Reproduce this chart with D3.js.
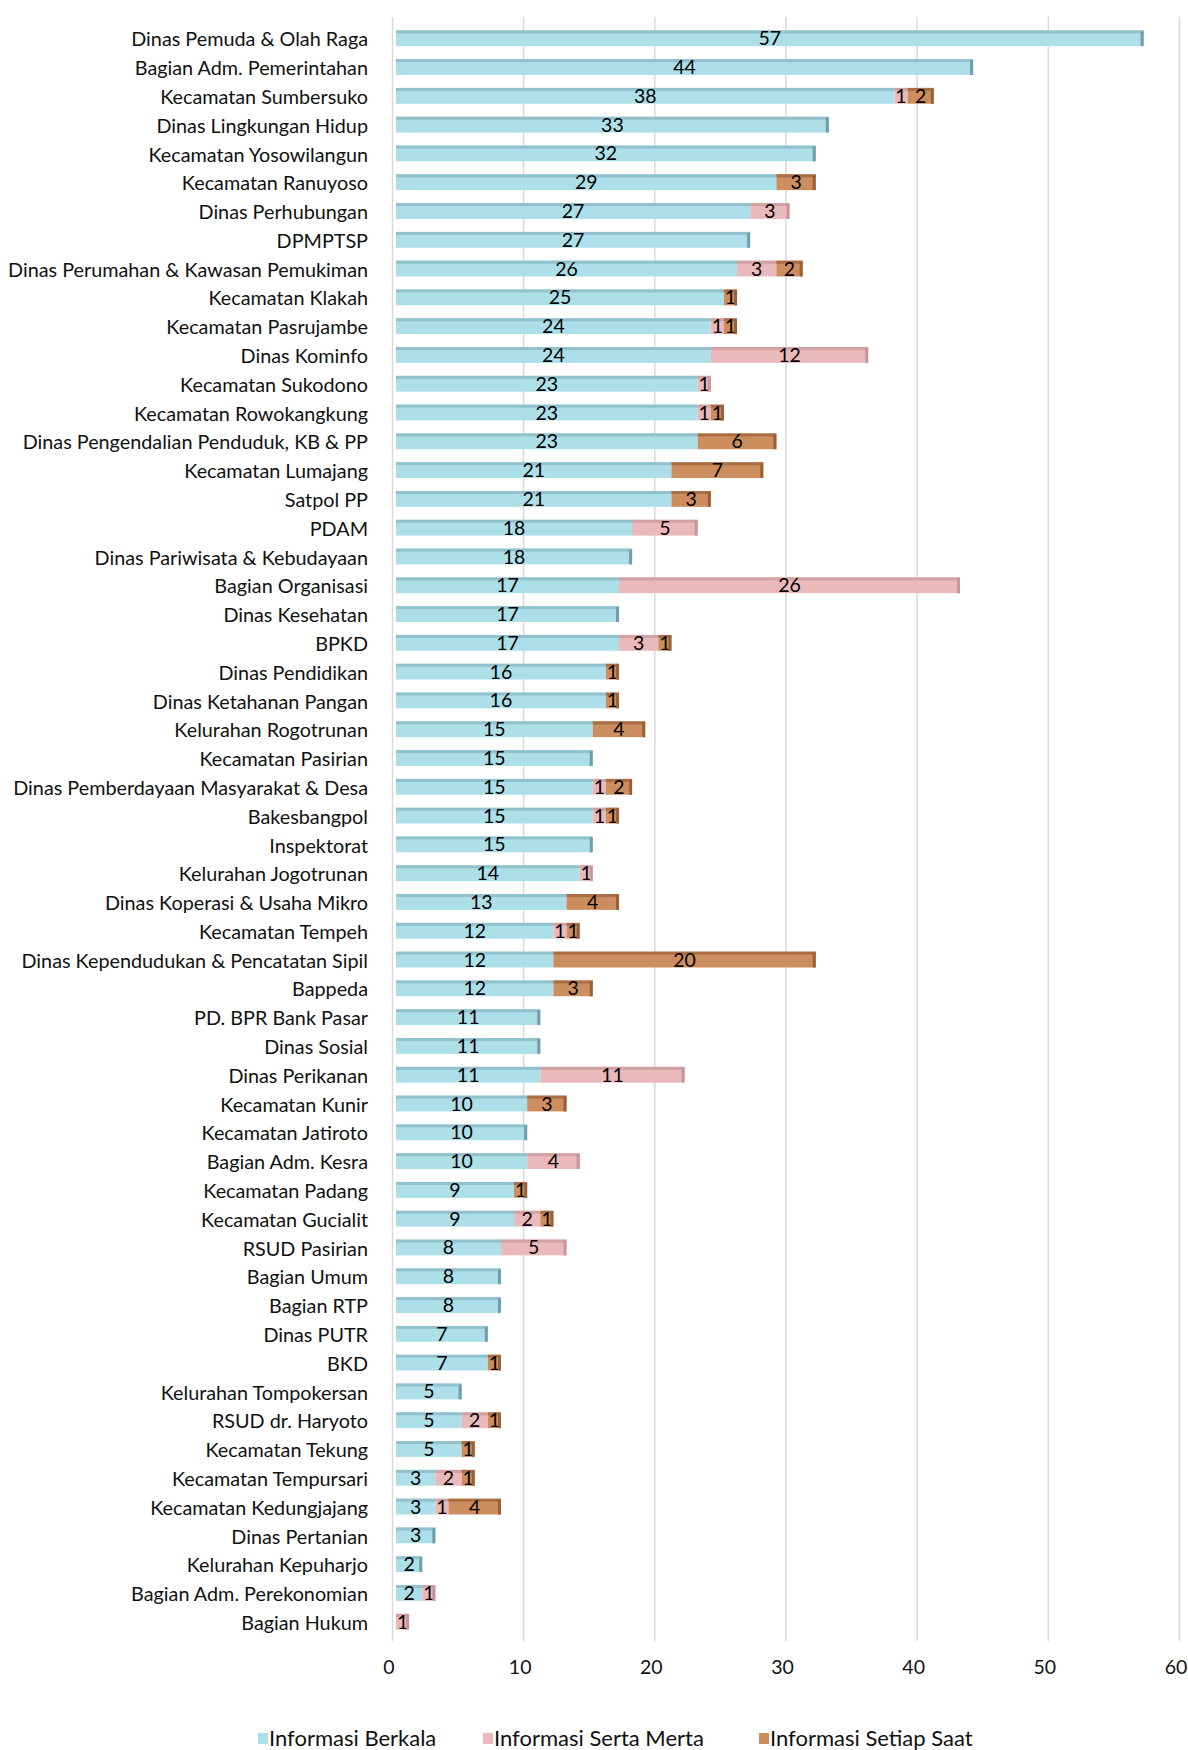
<!DOCTYPE html>
<html>
<head>
<meta charset="utf-8">
<script src="https://cdn.jsdelivr.net/npm/d3@7"></script>
<style>
  html, body { margin: 0; padding: 0; background: #fff; }
  svg { display: block; font-family: Lato, "Open Sans", sans-serif; }
</style>
</head>
<body>
<svg id="chart" width="1188" height="1750"></svg>
<script>
'use strict';

var categories = [
  'Dinas Pemuda & Olah Raga', 'Bagian Adm. Pemerintahan', 'Kecamatan Sumbersuko',
  'Dinas Lingkungan Hidup', 'Kecamatan Yosowilangun', 'Kecamatan Ranuyoso',
  'Dinas Perhubungan', 'DPMPTSP', 'Dinas Perumahan & Kawasan Pemukiman',
  'Kecamatan Klakah', 'Kecamatan Pasrujambe', 'Dinas Kominfo',
  'Kecamatan Sukodono', 'Kecamatan Rowokangkung', 'Dinas Pengendalian Penduduk, KB & PP',
  'Kecamatan Lumajang', 'Satpol PP', 'PDAM', 'Dinas Pariwisata & Kebudayaan',
  'Bagian Organisasi', 'Dinas Kesehatan', 'BPKD', 'Dinas Pendidikan',
  'Dinas Ketahanan Pangan', 'Kelurahan Rogotrunan', 'Kecamatan Pasirian',
  'Dinas Pemberdayaan Masyarakat & Desa', 'Bakesbangpol', 'Inspektorat',
  'Kelurahan Jogotrunan', 'Dinas Koperasi & Usaha Mikro', 'Kecamatan Tempeh',
  'Dinas Kependudukan & Pencatatan Sipil', 'Bappeda', 'PD. BPR Bank Pasar',
  'Dinas Sosial', 'Dinas Perikanan', 'Kecamatan Kunir', 'Kecamatan Jatiroto',
  'Bagian Adm. Kesra', 'Kecamatan Padang', 'Kecamatan Gucialit', 'RSUD Pasirian',
  'Bagian Umum', 'Bagian RTP', 'Dinas PUTR', 'BKD', 'Kelurahan Tompokersan',
  'RSUD dr. Haryoto', 'Kecamatan Tekung', 'Kecamatan Tempursari',
  'Kecamatan Kedungjajang', 'Dinas Pertanian', 'Kelurahan Kepuharjo',
  'Bagian Adm. Perekonomian', 'Bagian Hukum'
];

var berkala = [
  57, 44, 38, 33, 32, 29, 27, 27, 26, 25, 24, 24, 23, 23, 23, 21, 21, 18, 18, 17,
  17, 17, 16, 16, 15, 15, 15, 15, 15, 14, 13, 12, 12, 12, 11, 11, 11, 10, 10, 10,
  9, 9, 8, 8, 8, 7, 7, 5, 5, 5, 3, 3, 3, 2, 2, 0
];

var sertaMerta = [
  0, 0, 1, 0, 0, 0, 3, 0, 3, 0, 1, 12, 1, 1, 0, 0, 0, 5, 0, 26,
  0, 3, 0, 0, 0, 0, 1, 1, 0, 1, 0, 1, 0, 0, 0, 0, 11, 0, 0, 4,
  0, 2, 5, 0, 0, 0, 0, 0, 2, 0, 2, 1, 0, 0, 1, 1
];

var setiapSaat = [
  0, 0, 2, 0, 0, 3, 0, 0, 2, 1, 1, 0, 0, 1, 6, 7, 3, 0, 0, 0,
  0, 1, 1, 1, 4, 0, 2, 1, 0, 0, 4, 1, 20, 3, 0, 0, 0, 3, 0, 0,
  1, 1, 0, 0, 0, 0, 1, 0, 1, 1, 1, 4, 0, 0, 0, 0
];

var seriesNames = ['Informasi Berkala', 'Informasi Serta Merta', 'Informasi Setiap Saat'];
var xTicks = [0, 10, 20, 30, 40, 50, 60];

var colors = {
  fill: ['#addfe9', '#e9b9bc', '#cc8e5e'],
  edge: ['#83b3bf', '#c99598', '#9a6139']
};

var svg = d3.select('#chart'),
    depth = 4;   // shift of the bar faces against the gridlines (3d look)

var rows = categories.map(function(c, i) {
  return { cat: c, b: berkala[i], s: sertaMerta[i], t: setiapSaat[i] };
});

var stack = d3.stack().keys(['b', 's', 't'])(rows);

var x = d3.scaleLinear().domain([0, 60]).range([396, 396 + 787]);
var y = d3.scaleBand().domain(categories).range([24, 1636]).paddingInner(0.45).paddingOuter(0.22);

// gridlines
svg.append('g').attr('class', 'grid')
  .selectAll('line').data(xTicks).enter().append('line')
  .attr('x1', function(d) { return x(d) - depth + 0.5; })
  .attr('x2', function(d) { return x(d) - depth + 0.5; })
  .attr('y1', 17).attr('y2', 1641)
  .attr('stroke', '#d9d9d9').attr('stroke-width', 1.5);

// bars
var layers = svg.append('g').attr('class', 'bars')
  .selectAll('g').data(stack).enter().append('g');

layers.each(function(layer, k) {
  var g = d3.select(this);
  var segs = layer.filter(function(d) { return d[1] - d[0] > 0; });
  var seg = g.selectAll('g').data(segs).enter().append('g');
  seg.append('rect')
    .attr('x', function(d) { return x(d[0]); })
    .attr('y', function(d) { return y(d.data.cat); })
    .attr('width', function(d) { return x(d[1]) - x(d[0]); })
    .attr('height', y.bandwidth())
    .attr('fill', colors.fill[k]);
  seg.append('rect')
    .attr('x', function(d) { return x(d[0]); })
    .attr('y', function(d) { return y(d.data.cat); })
    .attr('width', function(d) { return x(d[1]) - x(d[0]); })
    .attr('height', 3)
    .attr('fill', colors.edge[k])
    .attr('opacity', 0.7);
});

// end caps on each bar
svg.append('g').attr('class', 'caps')
  .selectAll('rect').data(rows).enter().append('rect')
  .attr('x', function(d) { return x(d.b + d.s + d.t) - 3; })
  .attr('y', function(d) { return y(d.cat) + 1; })
  .attr('width', 3)
  .attr('height', y.bandwidth() - 1)
  .attr('fill', function(d) { return d.t > 0 ? colors.edge[2] : (d.s > 0 ? colors.edge[1] : '#6f9ea9'); });

// value labels
layers.each(function(layer) {
  var segs = layer.filter(function(d) { return d[1] - d[0] > 0; });
  d3.select(this).selectAll('text').data(segs).enter().append('text')
    .attr('x', function(d) { return (x(d[0]) + x(d[1])) / 2; })
    .attr('y', function(d) { return y(d.data.cat) + y.bandwidth() / 2; })
    .attr('dy', '0.36em')
    .attr('text-anchor', 'middle')
    .attr('font-size', 19.5)
    .attr('fill', '#000')
    .text(function(d) { return d[1] - d[0]; });
});

// category labels
svg.append('g').attr('class', 'cats')
  .selectAll('text').data(categories).enter().append('text')
  .attr('x', 368)
  .attr('y', function(d) { return y(d) + y.bandwidth() / 2 + 1; })
  .attr('dy', '0.36em')
  .attr('text-anchor', 'end')
  .attr('font-size', 19.8)
  .attr('fill', '#111')
  .text(function(d) { return d; });

// x axis labels
svg.append('g').attr('class', 'xlabels')
  .selectAll('text').data(xTicks).enter().append('text')
  .attr('x', function(d) { return x(d) - depth - 3; })
  .attr('y', 1667)
  .attr('dy', '0.36em')
  .attr('text-anchor', 'middle')
  .attr('font-size', 19.5)
  .attr('fill', '#111')
  .text(function(d) { return d; });

// legend
var legendX = [258, 483, 759];
var legend = svg.append('g').attr('class', 'legend')
  .selectAll('g').data(seriesNames).enter().append('g')
  .attr('transform', function(d, i) { return 'translate(' + legendX[i] + ',1738)'; });
legend.append('rect')
  .attr('x', 0).attr('y', -5).attr('width', 10).attr('height', 11)
  .attr('fill', function(d, i) { return colors.fill[i]; });
legend.append('text')
  .attr('x', 11).attr('y', 0).attr('dy', '0.36em')
  .attr('font-size', 22).attr('fill', '#111')
  .text(function(d) { return d; });
</script>
</body>
</html>
